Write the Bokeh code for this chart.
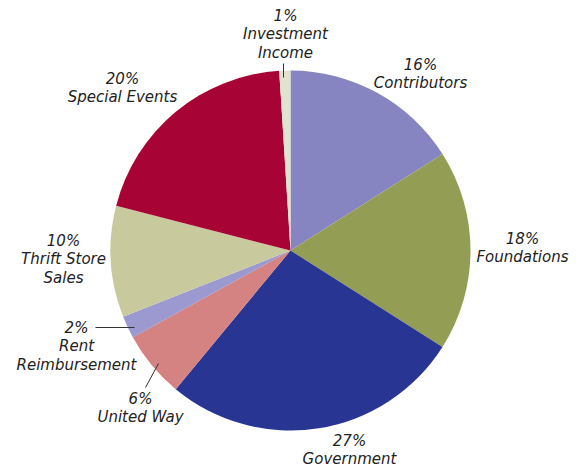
import numpy as np
from bokeh.plotting import figure
from bokeh.models import Range1d, ColumnDataSource
from bokeh.core.properties import value
from bokeh.embed import file_html
from bokeh.resources import INLINE

# Data
categories = ["Contributors", "Foundations", "Government", "United Way",
              "Rent Reimbursement", "Thrift Store Sales", "Special Events", "Investment Income"]
shares = [16, 18, 27, 6, 2, 10, 20, 1]
label_lines = [["16%", "Contributors"], ["18%", "Foundations"], ["27%", "Government"],
               ["6%", "United Way"], ["2%", "Rent", "Reimbursement"],
               ["10%", "Thrift Store", "Sales"], ["20%", "Special Events"],
               ["1%", "Investment", "Income"]]
colors = ["#8785C1", "#949D54", "#283593", "#D48282", "#9B99CF", "#C8CA9E", "#A70334", "#E0E4CF"]

W, H = 579, 468
p = figure(width=W, height=H, output_backend="svg", toolbar_location=None,
           x_range=Range1d(0, W), y_range=Range1d(0, H),
           min_border=0)
p.axis.visible = False
p.grid.visible = False
p.outline_line_color = None

def Y(img_y):
    return H - img_y

cx, cy, r = 290, Y(250), 180
total = float(sum(shares))
frac = np.array(shares) / total
ends = np.cumsum(frac)
starts = ends - frac
start_angle = np.pi / 2 - 2 * np.pi * starts
end_angle = np.pi / 2 - 2 * np.pi * ends

src = ColumnDataSource(dict(x=[cx] * len(shares), y=[cy] * len(shares),
                            s=start_angle, e=end_angle, c=colors))
p.wedge(x="x", y="y", radius=r, start_angle="e", end_angle="s",
        fill_color="c", line_color=None, source=src)

# label anchor positions (image coords of first line centre)
label_pos = [(420, 64), (522, 238), (349, 440), (140, 398), (76, 327),
             (63, 240), (122, 78), (285, 15)]
lx, ly, lt = [], [], []
for (px, py), lines in zip(label_pos, label_lines):
    for i, t in enumerate(lines):
        lx.append(px)
        ly.append(Y(py + 18.5 * i))
        lt.append(t)
p.text(x=lx, y=ly, text=lt, text_align="center", text_baseline="middle",
       text_font=value("DejaVu Sans"), text_font_style="italic",
       text_font_size="15px", text_color="#222222")

# leader lines
p.segment(x0=[283, 95, 145], y0=[Y(63), Y(327), Y(387)],
          x1=[283, 134, 158], y1=[Y(77), Y(327), Y(363)],
          line_color="#333333", line_width=1)

open("out.html", "w").write(file_html(p, INLINE))
